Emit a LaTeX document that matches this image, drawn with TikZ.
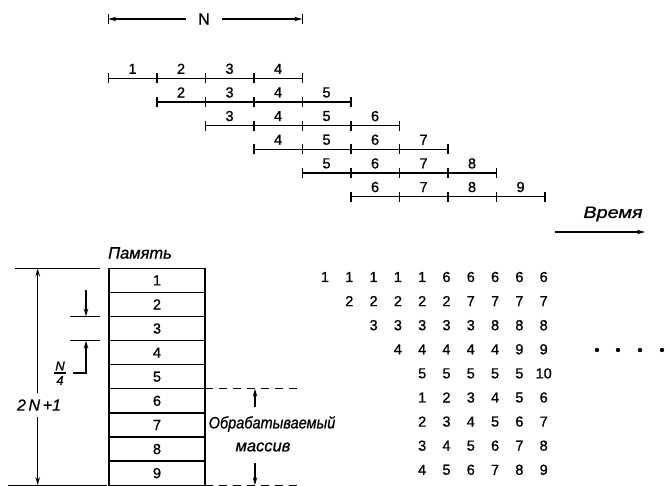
\documentclass[tikz,border=0pt]{standalone}
\usepackage{fontspec}
\setmainfont{Liberation Sans}[FakeBold=0.9]
\usetikzlibrary{arrows.meta}
\begin{document}
\begin{tikzpicture}[x=1pt,y=-1pt,
  num/.style={font=\fontsize{14.5}{14.5}\selectfont, inner sep=0pt},
  ital/.style={font=\fontsize{16.5}{16.5}\selectfont\itshape, inner sep=0pt},
  ln/.style={line width=1.4pt},
  tip/.style={-{Stealth[length=8pt,width=4.5pt]}},
  cell/.style={draw, line width=1.3pt, minimum width=96pt, minimum height=24.1pt, inner sep=0pt, font=\fontsize{14.5}{14.5}\selectfont},
  dsh/.style={line width=1.2pt, dash pattern=on 8pt off 6pt}
]
\useasboundingbox (0,0) rectangle (670,486);

% ---- N dimension ----
\coordinate (nL) at (108.3,19);
\coordinate (nR) at (302.3,19);
\node[num, font=\fontsize{16}{16}\selectfont] (N) at (204,19) {N};
\draw[ln,tip] ([xshift=-12pt]N.west) -- (nL);
\draw[ln,tip] ([xshift=12pt]N.east) -- (nR);
\draw[ln] ([yshift=-5pt]nL) -- ([yshift=5pt]nL);
\draw[ln] ([yshift=-5pt]nR) -- ([yshift=5pt]nR);

% ---- time bars ----
\foreach \r in {0,...,5} {
  \pgfmathsetmacro\yy{78.3+23.65*\r}
  \foreach \k in {0,...,4} {
    \coordinate (b\r-\k) at ({108.3+48.5*(\r+\k)},\yy);
    \draw[ln] ([yshift=-5pt]b\r-\k) -- ([yshift=5pt]b\r-\k);
  }
  \draw[ln] (b\r-0) -- (b\r-4);
  \foreach \k in {1,...,4} {
    \pgfmathtruncatemacro\lab{\r+\k}
    \node[num] (s\r-\k) at ({108.3+48.5*(\r+\k-0.5)},{\yy-9.5}) {\lab};
  }
}

% ---- time arrow ----
\node[ital, xscale=1.2] (vr) at (613,214) {Время};
\coordinate (va) at (555,232);
\coordinate (vb) at (645,232);
\draw[ln,tip] (va) -- (vb);

% ---- memory ----
\node[ital] (pam) at (140,253) {Память};
\foreach \i in {1,...,9} {
  \node[cell] (m\i) at (157,{268.3+24.1*(\i-0.5)}) {\i};
}

% 2N+1 dimension
\coordinate (tA) at (15,268.3);
\coordinate (tB) at (100,268.3);
\coordinate (bA) at (8,485.2);
\coordinate (bB) at (107,485.2);
\draw[line width=1.2pt] (tA) -- (tB);
\draw[line width=1.2pt] (bA) -- (bB);
\node[ital, font=\fontsize{16}{16}\selectfont\itshape] (tn) at (39,405) {2\,N\,+1};
\draw[ln,tip] ([yshift=6pt]tn.north -| 37.7,0) -- (37.7,268.3);
\draw[ln,tip] ([yshift=-6pt]tn.south -| 37.7,0) -- (37.7,485.2);

% N/4 dimension
\coordinate (q3a) at (70,316.5);
\coordinate (q3b) at (100,316.5);
\coordinate (q4a) at (70,340.6);
\coordinate (q4b) at (100,340.6);
\draw[line width=1.2pt] (q3a) -- (q3b);
\draw[line width=1.2pt] (q4a) -- (q4b);
\coordinate (qd) at (86,290);
\draw[ln,tip] (qd) -- (86,316.5);
\node[ital, font=\fontsize{13}{13}\selectfont\itshape] (qN) at (60,366) {N};
\node[ital, font=\fontsize{13}{13}\selectfont\itshape] (q4) at (60,380.5) {4};
\draw[line width=1.3pt] (54,373) -- (66,373);
\coordinate (qc) at (73,373);
\draw[ln,tip] (qc) -- (86,373) -- (86,340.6);

% processed array
\coordinate (dA) at (205,388.8);
\coordinate (dB) at (300,388.8);
\coordinate (eA) at (205,485.2);
\coordinate (eB) at (300,485.2);
\draw[dsh] (dA) -- (dB);
\draw[dsh] (eA) -- (eB);
\draw[ln,tip] (255,407) -- (255,388.8);
\draw[ln,tip] (255,463) -- (255,485.2);
\node[ital, xscale=0.88] (ob1) at (272,424) {Обрабатываемый};
\node[ital] (ob2) at (263,447) {массив};

% ---- matrix ----
\foreach \r/\s/\lst in {1/1/{1,1,1,1,1,6,6,6,6,6},
                         2/2/{2,2,2,2,2,7,7,7,7},
                         3/3/{3,3,3,3,3,8,8,8},
                         4/4/{4,4,4,4,4,9,9},
                         5/5/{5,5,5,5,5,10},
                         6/5/{1,2,3,4,5,6},
                         7/5/{2,3,4,5,6,7},
                         8/5/{3,4,5,6,7,8},
                         9/5/{4,5,6,7,8,9}} {
  \foreach \v [count=\i] in \lst {
    \node[num] (x\r-\i) at ({325+24.3*(\s+\i-2)},{277+24.1*(\r-1)}) {\v};
  }
}

% dots
\foreach \j/\xx in {1/597,2/618,3/640,4/662} {
  \fill (\xx,350) circle (2.2pt) coordinate (dot\j);
}
\end{tikzpicture}
\end{document}
